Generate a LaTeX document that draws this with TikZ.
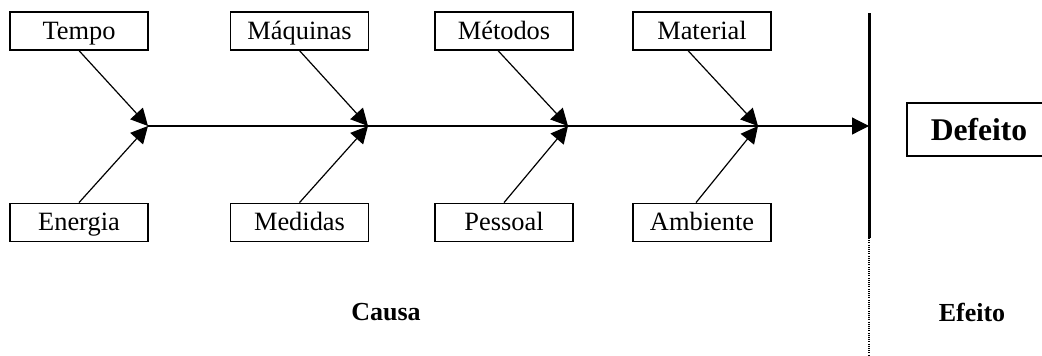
\documentclass[tikz,border=0pt]{standalone}
\usepackage{fontspec}
\setmainfont{Liberation Serif}
\usepackage{tikz}
\usetikzlibrary{arrows.meta,positioning}
\tikzset{cause/.style={draw, line width=0.6pt, minimum width=69pt, minimum height=19pt, inner sep=1pt, text height=11pt, text depth=2.7pt, text centered}}
\tikzset{line/.style={draw, line width=0.6pt, -{Triangle[length=8.5pt,width=8.5pt]}}}

\begin{document}
\begin{tikzpicture}[x=0.5pt,y=-0.5pt,font=\fontsize{13.2}{15}\selectfont]
			\useasboundingbox (0,0) rectangle (1042,355);
			\clip (0,0) rectangle (1042,355);
			\node [cause]                         at (79,31)   (tempo)    {Tempo};
			\node [cause]                         at (299.5,31) (maquinas) {Máquinas};
			\node [cause]                         at (504,31)  (metodos)  {Métodos};
			\node [cause]                         at (702,31)  (material) {Material};
			\node [cause, below=76pt of tempo]    (energia)  {Energia};
			\node [cause, below=76pt of maquinas] (medidas)  {Medidas};
			\node [cause, below=76pt of metodos]  (pessoal)  {Pessoal};
			\node [cause, below=76pt of material] (ambiente) {Ambiente};
			\node [draw, line width=0.6pt, minimum width=72pt, minimum height=26.5pt, font=\fontsize{15.8}{18}\selectfont\bfseries] at (979,129.5) (defeito) {Defeito};
			\node [font=\fontsize{13}{15}\selectfont\bfseries] at (386,312) (causa)  {Causa};
			\node [font=\fontsize{13}{15}\selectfont\bfseries] at (972,312) (efeito) {Efeito};
			\coordinate (j1)   at (148,126);
			\coordinate (j2)   at (368,126);
			\coordinate (j3)   at (568,126);
			\coordinate (j4)   at (758,126);
			\coordinate (head) at (869,126);
			\coordinate (top)  at (869,13);
			\coordinate (bot)  at (869,238);
			\coordinate (end)  at (869,355);
			%
			\draw [line width=1.5pt] (top) -- (bot);
			\draw [line width=0.7pt, dash pattern=on 0.5pt off 0.6pt] (bot) -- (end);
			\path [line] (j1) -- (head);
			\path [line] (tempo.south)    -- (j1);
			\path [line] (energia.north)  -- (j1);
			\path [line] (maquinas.south) -- (j2);
			\path [line] (medidas.north)  -- (j2);
			\path [line] ([xshift=-3pt]metodos.south) -- (j3);
			\path [line] (pessoal.north)  -- (j3);
			\path [line] ([xshift=-7pt]material.south) -- (j4);
			\path [line] ([xshift=-3pt]ambiente.north) -- (j4);
\end{tikzpicture}
\end{document}
